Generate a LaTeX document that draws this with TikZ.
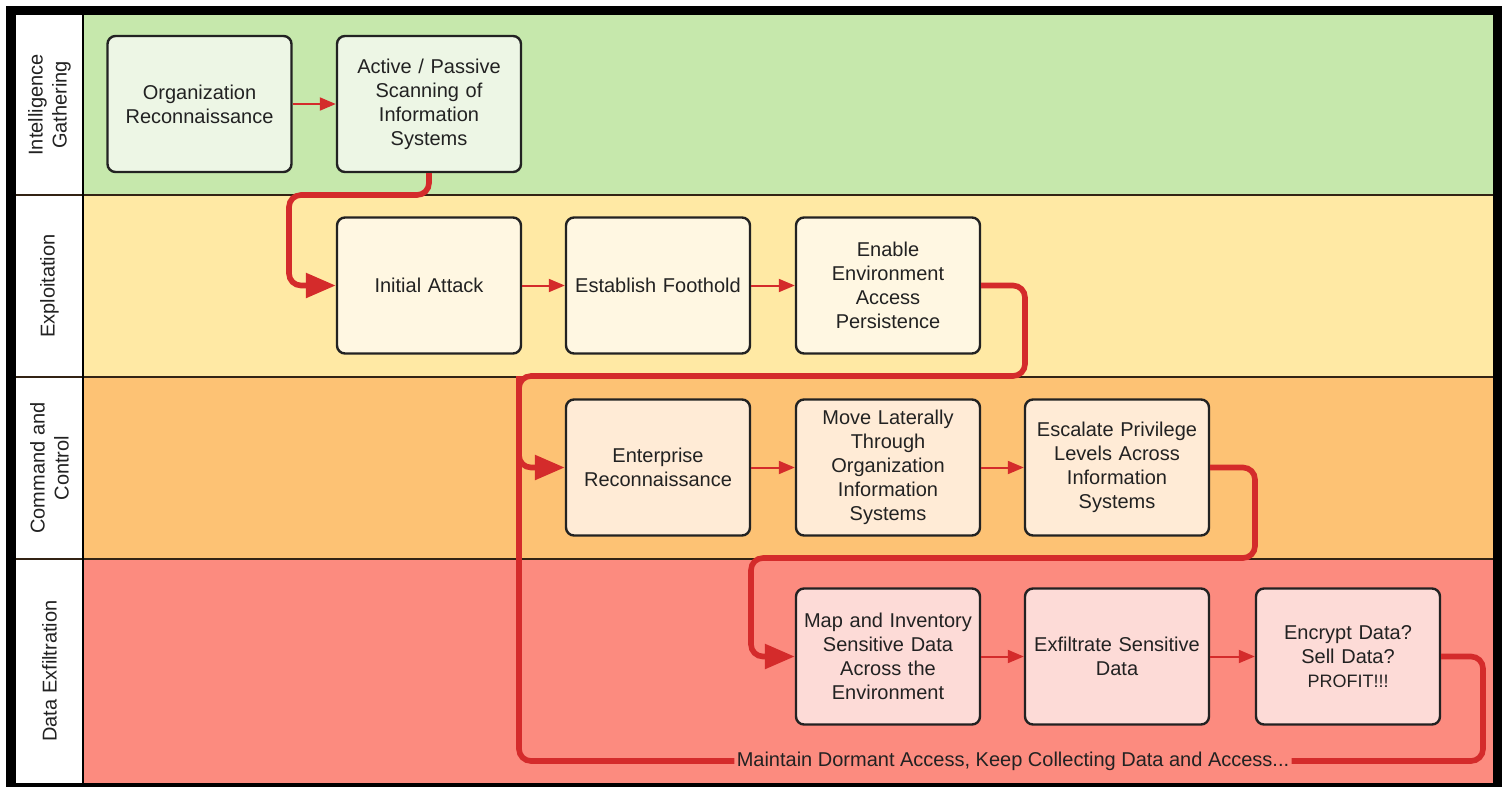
\documentclass[tikz,border=0pt]{standalone}
\usepackage{fontspec}
\setmainfont{Liberation Sans}
\usetikzlibrary{arrows.meta}
\definecolor{lgreen}{RGB}{198,232,172}
\definecolor{lyellow}{RGB}{255,233,164}
\definecolor{lorange}{RGB}{253,194,116}
\definecolor{lred}{RGB}{252,139,127}
\definecolor{bgreen}{RGB}{237,246,229}
\definecolor{byellow}{RGB}{255,247,226}
\definecolor{borange}{RGB}{255,235,214}
\definecolor{bred}{RGB}{253,219,215}
\definecolor{flowred}{RGB}{212,43,43}
\definecolor{txt}{RGB}{34,34,34}
\definecolor{sep}{RGB}{50,35,20}
\tikzset{
  stepbox/.style={draw=txt, line width=1.2pt, rounded corners=4pt, minimum width=92pt, minimum height=68pt, text width=88pt, align=center, font=\fontsize{10}{12}\selectfont, text=txt, inner sep=1pt},
  thinflow/.style={draw=flowred, line width=1pt, -{Triangle[length=8pt,width=6.5pt]}},
  thickflow/.style={draw=flowred, line width=2.8pt, rounded corners=6pt},
  bigtip/.style={-{Triangle[length=15pt,width=12pt]}},
  lanelabel/.style={rotate=90, align=center, font=\fontsize{10}{12}\selectfont, text=txt},
}
\begin{document}
\begin{tikzpicture}[x=0.5pt,y=-0.5pt]
\useasboundingbox (0,0) rectangle (1506,787);
\fill[white] (0,0) rectangle (1506,787);
\fill[black] (6,6) rectangle (1502,787);
% label column
\fill[white] (16,15) rectangle (83,783);
% lanes
\fill[lgreen] (84,15) rectangle (1493,195);
\fill[lyellow] (84,195) rectangle (1493,377);
\fill[lorange] (84,377) rectangle (1493,559);
\fill[lred] (84,559) rectangle (1493,783);
\draw[sep, line width=1pt] (16,195) -- (1493,195);
\draw[sep, line width=1pt] (16,377) -- (1493,377);
\draw[sep, line width=1pt] (16,559) -- (1493,559);
\draw[black, line width=1.2pt] (83,15) -- (83,783);
% lane labels
\node[lanelabel] (lab1) at (49.5,105) {Intelligence\\Gathering};
\node[lanelabel] (lab2) at (49.5,286) {Exploitation};
\node[lanelabel] (lab3) at (49.5,468) {Command and\\Control};
\node[lanelabel] (lab4) at (49.5,671) {Data Exfiltration};
% boxes
\node[stepbox, fill=bgreen] (b1) at (199.5,104) {Organization\\Reconnaissance};
\node[stepbox, fill=bgreen] (b2) at (429,104) {Active / Passive\\Scanning of\\Information\\Systems};
\node[stepbox, fill=byellow] (b3) at (429,285.5) {Initial Attack};
\node[stepbox, fill=byellow] (b4) at (658,285.5) {Establish Foothold};
\node[stepbox, fill=byellow] (b5) at (888,285.5) {Enable\\Environment\\Access\\Persistence};
\node[stepbox, fill=borange] (b6) at (658,467.5) {Enterprise\\Reconnaissance};
\node[stepbox, fill=borange] (b7) at (888,467.5) {Move Laterally\\Through\\Organization\\Information\\Systems};
\node[stepbox, fill=borange] (b8) at (1117,467.5) {Escalate Privilege\\Levels Across\\Information\\Systems};
\node[stepbox, fill=bred] (b9) at (888,656.5) {Map and Inventory\\Sensitive Data\\Across the\\Environment};
\node[stepbox, fill=bred] (b10) at (1117,656.5) {Exfiltrate Sensitive\\Data};
\node[stepbox, fill=bred] (b11) at (1348,656.5) {Encrypt Data?\\Sell Data?\\{\fontsize{9}{12}\selectfont PROFIT!!!}};
% thin arrows
\draw[thinflow] (b1) -- (b2);
\draw[thinflow] (b3) -- (b4);
\draw[thinflow] (b4) -- (b5);
\draw[thinflow] (b6) -- (b7);
\draw[thinflow] (b7) -- (b8);
\draw[thinflow] (b9) -- (b10);
\draw[thinflow] (b10) -- (b11);
% thick flows
\coordinate (c1a) at (429,195);
\coordinate (c1b) at (289,195);
\coordinate (c1c) at (289,285.5);
\draw[thickflow, bigtip] (b2.south) -- (c1a) -- (c1b) -- (c1c) -- (b3.west);
\coordinate (c2a) at (1025,285.5);
\coordinate (c2b) at (1025,376);
\coordinate (c2c) at (519,376);
\coordinate (c2d) at (519,467.5);
\draw[thickflow, bigtip] (b5.east) -- (c2a) -- (c2b) -- (c2c) -- (c2d) -- (b6.west);
\coordinate (c3a) at (1255,467.5);
\coordinate (c3b) at (1255,558);
\coordinate (c3c) at (751,558);
\coordinate (c3d) at (751,656.5);
\draw[thickflow, bigtip] (b8.east) -- (c3a) -- (c3b) -- (c3c) -- (c3d) -- (b9.west);
\node[fill=lred, inner sep=1pt, font=\fontsize{10}{12}\selectfont, text=txt] (loop) at (1013,761) {Maintain Dormant Access, Keep Collecting Data and Access...};
\coordinate (c4a) at (1483,656.5);
\coordinate (c4b) at (1483,761);
\coordinate (c4c) at (519,761);
\draw[thickflow] (b11.east) -- (c4a) -- (c4b) -- (loop.east);
\draw[thickflow] (loop.west) -- (c4c) -- (c2c);
\end{tikzpicture}
\end{document}
